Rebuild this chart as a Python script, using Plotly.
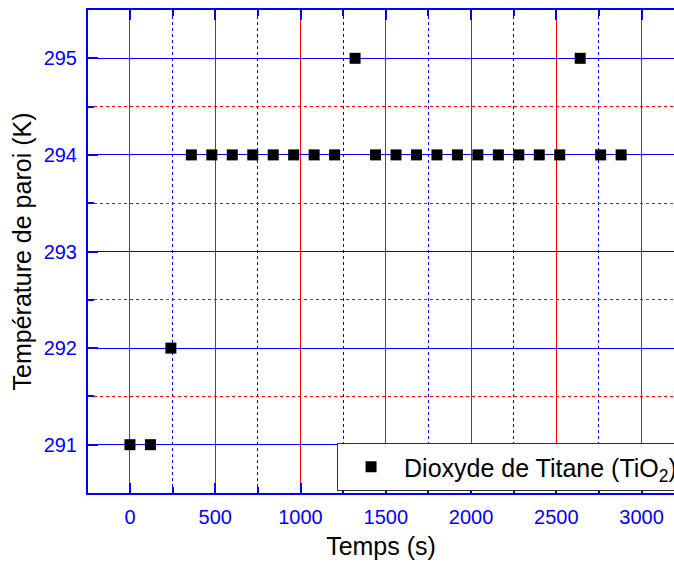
import plotly.graph_objects as go

time_s = [0, 120, 240, 360, 480, 600, 720, 840, 960, 1080, 1200, 1320,
          1440, 1560, 1680, 1800, 1920, 2040, 2160, 2280, 2400, 2520,
          2640, 2760, 2880]
temp_K = [291, 291, 292, 294, 294, 294, 294, 294, 294, 294, 294, 295,
          294, 294, 294, 294, 294, 294, 294, 294, 294, 294,
          295, 294, 294]
series_name = "Dioxyde de Titane (TiO<sub>2</sub>)"
x_ticks = [0, 500, 1000, 1500, 2000, 2500, 3000]
y_ticks = [291, 292, 293, 294, 295]

FONT = "Liberation Sans, Arial, sans-serif"

fig = go.Figure()
fig.add_trace(go.Scatter(
    x=time_s, y=temp_K, mode="markers", name=series_name,
    marker=dict(symbol="square", size=11, color="black"),
))

fig.update_layout(
    width=674, height=567,
    margin=dict(l=88, r=0, t=10, b=74, autoexpand=False),
    paper_bgcolor="white", plot_bgcolor="white",
    font=dict(family=FONT, color="black"),
    showlegend=True,
    legend=dict(
        x=0.425, y=0.1035, xanchor="left", yanchor="top",
        bgcolor="white", bordercolor="#333333", borderwidth=1,
        font=dict(size=25, family=FONT, color="black"),
        itemwidth=56, tracegroupgap=0,
    ),
)

fig.update_xaxes(
    range=[-246, 3190],
    tickvals=x_ticks, ticktext=[str(v) for v in x_ticks],
    tickfont=dict(size=20, color="blue", family=FONT),
    ticks="inside", ticklen=10, tickwidth=2, tickcolor="blue",
    ticklabelstandoff=5,
    showline=True, linecolor="blue", linewidth=2, mirror="ticks",
    showgrid=True, gridcolor="red", gridwidth=1,
    zeroline=False,
    minor=dict(tickvals=[-250, 250, 750, 1250, 1750, 2250, 2750, 3250],
               ticks="inside", ticklen=6, tickwidth=1.5, tickcolor="blue",
               showgrid=True, gridcolor="blue", griddash="dot", gridwidth=1),
    title=dict(text="Temps (s)", font=dict(size=25, color="black", family=FONT),
               standoff=10),
)

fig.update_yaxes(
    range=[290.5, 295.5],
    tickvals=y_ticks, ticktext=[str(v) for v in y_ticks],
    tickfont=dict(size=20, color="blue", family=FONT),
    ticks="inside", ticklen=10, tickwidth=2, tickcolor="blue",
    ticklabelstandoff=5,
    showline=True, linecolor="blue", linewidth=2, mirror=False,
    showgrid=True, gridcolor="blue", gridwidth=1,
    zeroline=False,
    minor=dict(tickvals=[290.5, 291.5, 292.5, 293.5, 294.5, 295.5],
               ticks="inside", ticklen=6, tickwidth=1.5, tickcolor="blue",
               showgrid=True, gridcolor="red", griddash="dot", gridwidth=1),
    title=dict(text="Température de paroi (K)",
               font=dict(size=25, color="black", family=FONT), standoff=5),
)

fig.write_html("out.html")
